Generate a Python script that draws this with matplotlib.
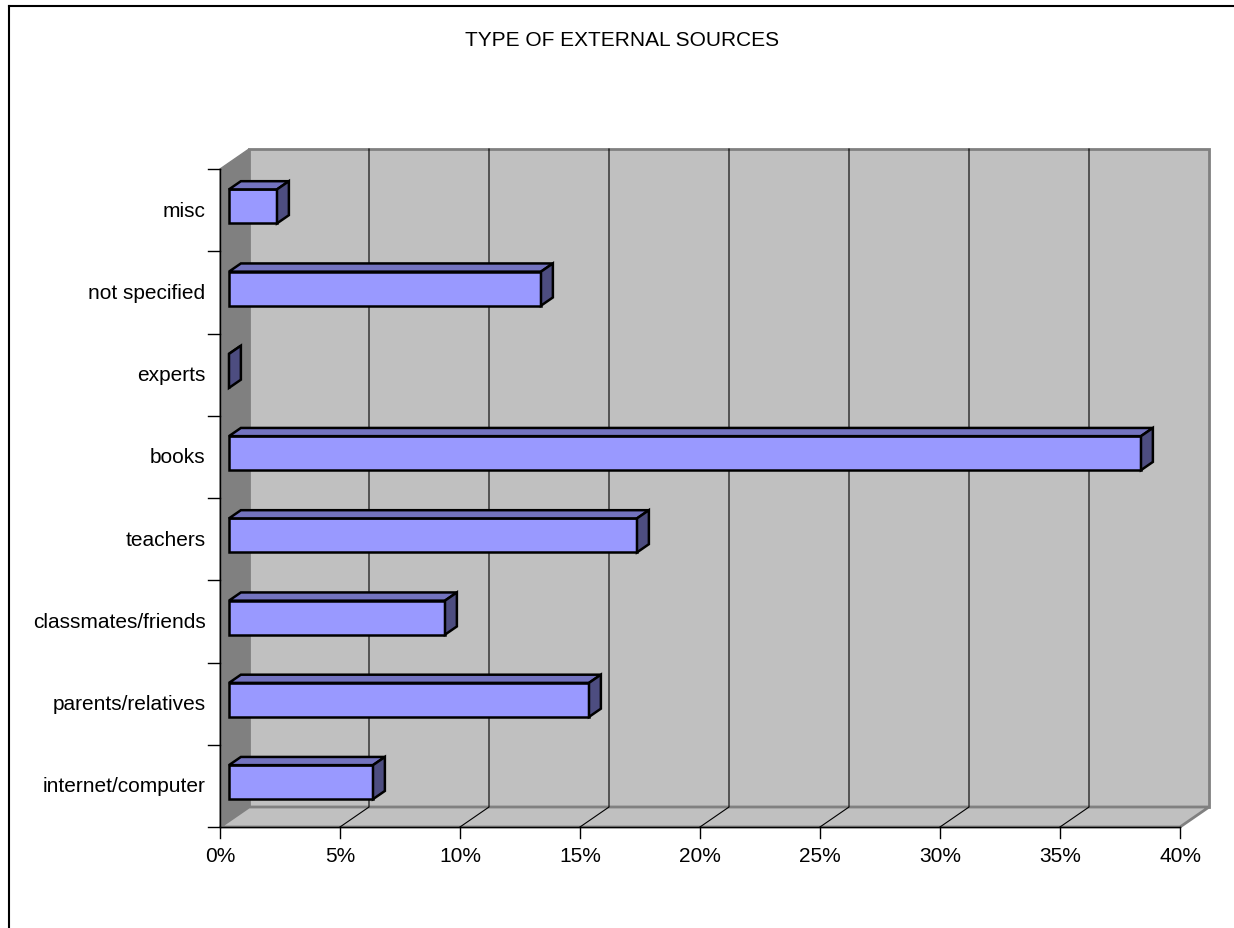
import matplotlib.pyplot as plt
from matplotlib.patches import Polygon

plt.rcParams['font.family'] = ['Liberation Sans', 'DejaVu Sans']

# Source shares (percent), bottom to top
categories = ['internet/computer', 'parents/relatives', 'classmates/friends',
              'teachers', 'books', 'experts', 'not specified', 'misc']
shares = [6, 15, 9, 17, 38, 0, 13, 2]
x_ticks = [0, 5, 10, 15, 20, 25, 30, 35, 40]
x_tick_labels = ['0%', '5%', '10%', '15%', '20%', '25%', '30%', '35%', '40%']

# 3D look: depth shift of the back wall in data units
DX = 29 / 24.0
DY = 20 / 82.25
XMAX = 40
N = len(categories)

wall = '#c0c0c0'
side_wall = '#808080'
edge_gray = '#808080'
bar_front = '#9999ff'
bar_top = '#7373bf'
bar_side = '#4d4d80'
FS = 15


def proj(x, y, z):
    return (x + z * DX, y + z * DY)


fig = plt.figure(figsize=(12.34, 9.29), dpi=100)
ax = fig.add_axes([0, 0, 1, 1])
ax.set_xlim(-220 / 24.0, (1234 - 220) / 24.0)
ax.set_ylim(-101 / 82.25, (929 - 101) / 82.25)
ax.axis('off')

# back wall
ax.add_patch(Polygon([proj(0, 0, 1), proj(XMAX, 0, 1), proj(XMAX, N, 1), proj(0, N, 1)],
                     closed=True, facecolor=wall, edgecolor=edge_gray, lw=2, zorder=1))
# side wall
ax.add_patch(Polygon([proj(0, 0, 0), proj(0, 0, 1), proj(0, N, 1), proj(0, N, 0)],
                     closed=True, facecolor=side_wall, edgecolor=edge_gray, lw=1, zorder=1))
# floor
ax.add_patch(Polygon([proj(0, 0, 0), proj(XMAX, 0, 0), proj(XMAX, 0, 1), proj(0, 0, 1)],
                     closed=True, facecolor=wall, edgecolor=edge_gray, lw=2, zorder=1))

# gridlines on wall and floor
for t in x_ticks[1:-1]:
    p0, p1, p2 = proj(t, 0, 0), proj(t, 0, 1), proj(t, N, 1)
    ax.plot([p0[0], p1[0], p2[0]], [p0[1], p1[1], p2[1]], color='black', lw=0.8, zorder=2)

# axes lines and ticks
ax.plot([0, 0], [0, N], color='black', lw=1, zorder=3)
ax.plot([0, XMAX], [0, 0], color='black', lw=1, zorder=3)
for i in range(N + 1):
    ax.plot([-0.5, 0], [i, i], color='black', lw=1, zorder=3)
for t, lab in zip(x_ticks, x_tick_labels):
    ax.plot([t, t], [0, -0.13], color='black', lw=1, zorder=3)
    ax.text(t, -0.23, lab, ha='center', va='top', fontsize=FS)

# bars
z0, z1 = 0.31, 0.72
h = 34 / 82.25
for i, (cat, v) in enumerate(zip(categories, shares)):
    yb = i + 0.47 - h / 2
    yt = yb + h
    front = [proj(0, yb, z0), proj(v, yb, z0), proj(v, yt, z0), proj(0, yt, z0)]
    top = [proj(0, yt, z0), proj(v, yt, z0), proj(v, yt, z1), proj(0, yt, z1)]
    side = [proj(v, yb, z0), proj(v, yb, z1), proj(v, yt, z1), proj(v, yt, z0)]
    for pts, fc in ((front, bar_front), (top, bar_top), (side, bar_side)):
        ax.add_patch(Polygon(pts, closed=True, facecolor=fc, edgecolor='black',
                             lw=1.8, joinstyle='miter', zorder=4))
    ax.text(-0.6, i + 0.5, cat, ha='right', va='center', fontsize=FS)

ax.text(0.504, 1 - 41 / 929, 'TYPE OF EXTERNAL SOURCES', transform=ax.transAxes,
        ha='center', va='center', fontsize=FS)

# chart frame (top and left edges)
fig.add_artist(plt.Line2D([8.5 / 1234, 8.5 / 1234], [0, 1 - 7 / 929],
                          transform=fig.transFigure, color='black', lw=1.5))
fig.add_artist(plt.Line2D([8.5 / 1234, 1], [1 - 7 / 929, 1 - 7 / 929],
                          transform=fig.transFigure, color='black', lw=1.5))

fig.savefig('out.png', dpi=100)
